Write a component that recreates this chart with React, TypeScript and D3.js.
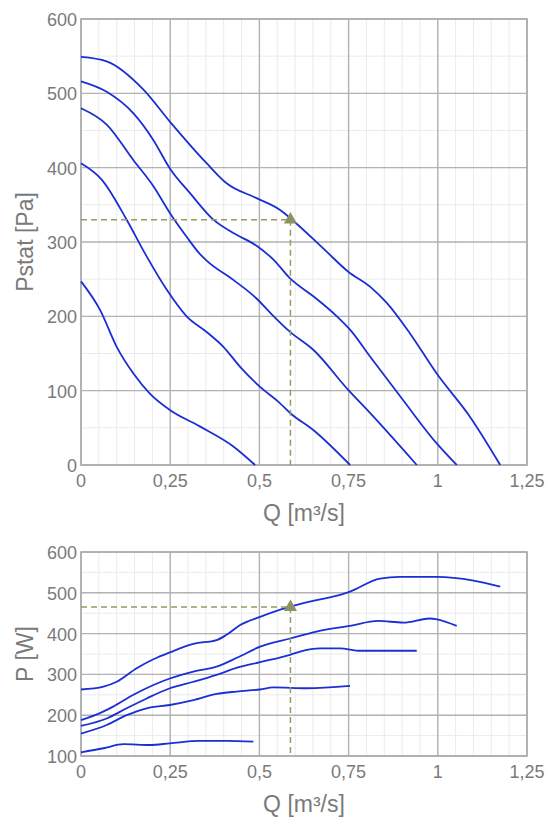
import * as d3 from 'd3';

// pressure curves, [Q m3/s, Pstat Pa]
const pstat1 = [[0, 549], [0.072, 543], [0.175, 505], [0.249, 462], [0.352, 406], [0.408, 379], [0.492, 359], [0.558, 343], [0.589, 331], [0.684, 289], [0.749, 260], [0.81, 240], [0.857, 218], [0.922, 177], [0.997, 123], [1.09, 65], [1.175, 0]];
const pstat2 = [[0, 516], [0.072, 502], [0.147, 473], [0.203, 437], [0.249, 399], [0.305, 366], [0.371, 330], [0.427, 312], [0.492, 295], [0.54, 276], [0.586, 251], [0.651, 227], [0.717, 200], [0.754, 182], [0.81, 146], [0.903, 87], [0.997, 29], [1.053, 0]];
const pstat3 = [[0, 480], [0.072, 458], [0.147, 410], [0.203, 375], [0.249, 339], [0.296, 307], [0.333, 284], [0.352, 275], [0.427, 249], [0.492, 224], [0.53, 205], [0.586, 179], [0.651, 155], [0.749, 101], [0.81, 70], [0.941, 0]];
const pstat4 = [[0, 406], [0.058, 384], [0.128, 330], [0.18, 284], [0.24, 236], [0.296, 200], [0.352, 179], [0.399, 159], [0.446, 132], [0.502, 105], [0.558, 83], [0.586, 70], [0.651, 47], [0.754, 0]];
const pstat5 = [[0, 247], [0.053, 209], [0.1, 159], [0.147, 123], [0.193, 96], [0.249, 74], [0.333, 52], [0.427, 25], [0.488, 0]];

// power curves, [Q m3/s, P W]
const power1 = [[0, 263], [0.063, 270], [0.1, 282], [0.156, 315], [0.203, 337], [0.249, 354], [0.315, 375], [0.38, 384], [0.408, 397], [0.446, 421], [0.502, 441], [0.586, 466], [0.66, 482], [0.726, 495], [0.754, 503], [0.838, 535], [0.894, 539], [0.997, 539], [1.1, 530], [1.175, 515]];
const power2 = [[0, 188], [0.053, 205], [0.09, 221], [0.147, 250], [0.203, 274], [0.249, 290], [0.315, 307], [0.38, 319], [0.44, 342], [0.502, 368], [0.586, 388], [0.66, 405], [0.754, 419], [0.833, 431], [0.903, 427], [0.978, 437], [0.997, 435], [1.053, 419]];
const power3 = [[0, 174], [0.072, 192], [0.128, 217], [0.184, 241], [0.249, 266], [0.315, 282], [0.38, 299], [0.44, 317], [0.502, 330], [0.586, 348], [0.614, 356], [0.67, 364], [0.726, 364], [0.782, 358], [0.941, 358]];
const power4 = [[0, 155], [0.072, 176], [0.128, 200], [0.184, 217], [0.249, 225], [0.315, 237], [0.38, 252], [0.436, 258], [0.502, 263], [0.539, 268], [0.633, 266], [0.754, 272]];
const power5 = [[0, 109], [0.063, 119], [0.119, 129], [0.193, 127], [0.249, 131], [0.333, 137], [0.408, 137], [0.483, 135]];

// operating point
const workQ = 0.587;
const workPstat = 330;
const workPower = 465;

const qTicks = [0, 0.25, 0.5, 0.75, 1, 1.25];
const pstatTicks = [0, 100, 200, 300, 400, 500, 600];
const powerTicks = [100, 200, 300, 400, 500, 600];

const FONT = '"Liberation Sans", Arial, sans-serif';
const TEXT = '#7a7a7a';
const BLUE = '#1a2fd4';
const OLIVE = '#979a63';

function Panel({ curves, yDomain, yTicks, top, bottom, title, workP }) {
  const x = d3.scaleLinear().domain([0, 1.25]).range([81, 527]);
  const y = d3.scaleLinear().domain(yDomain).range([bottom, top]);
  const line = d3
    .line()
    .x((d) => x(d[0]))
    .y((d) => y(d[1]))
    .curve(d3.curveMonotoneX);

  const minorX = d3.range(0, 1.2501, 0.05);
  const minorY = d3.range(yDomain[0], yDomain[1] + 1, 50);
  const tri = d3.symbol(d3.symbolTriangle, 75)();

  return (
    <g>
      {minorX.map((v, i) => (
        <line key={'mx' + i} x1={x(v)} x2={x(v)} y1={top} y2={bottom} stroke="#ebebeb" strokeWidth={1} />
      ))}
      {minorY.map((v, i) => (
        <line key={'my' + i} x1={81} x2={527} y1={y(v)} y2={y(v)} stroke="#ebebeb" strokeWidth={1} />
      ))}
      {qTicks.map((v) => (
        <line key={'gx' + v} x1={x(v)} x2={x(v)} y1={top} y2={bottom} stroke="#b3b3b3" strokeWidth={1.4} />
      ))}
      {yTicks.map((v) => (
        <line key={'gy' + v} x1={81} x2={527} y1={y(v)} y2={y(v)} stroke="#b3b3b3" strokeWidth={1.4} />
      ))}
      <rect x={81} y={top} width={446} height={bottom - top} fill="none" stroke="#adadad" strokeWidth={1.6} />

      {curves.map((c, i) => (
        <path key={'c' + i} d={line(c)} fill="none" stroke={BLUE} strokeWidth={1.8} />
      ))}

      <line x1={81} x2={x(workQ)} y1={y(workP)} y2={y(workP)} stroke={OLIVE} strokeWidth={1.5} strokeDasharray="6,4" />
      <line x1={x(workQ)} x2={x(workQ)} y1={y(workP)} y2={bottom} stroke={OLIVE} strokeWidth={1.5} strokeDasharray="6,4" />
      <path d={tri} transform={`translate(${x(workQ)},${y(workP)})`} fill="#8b9460" />

      {yTicks.map((v) => (
        <text key={'ty' + v} x={77} y={y(v) + 7} textAnchor="end" fontSize={18} fill={TEXT} fontFamily={FONT}>
          {v}
        </text>
      ))}
      {qTicks.map((v) => (
        <text key={'tx' + v} x={x(v)} y={bottom + 22} textAnchor="middle" fontSize={18} fill={TEXT} fontFamily={FONT}>
          {String(v).replace('.', ',')}
        </text>
      ))}
      <text x={304} y={bottom + 56} textAnchor="middle" fontSize={23} fill={TEXT} fontFamily={FONT}>
        Q [m³/s]
      </text>
      <text
        transform={`translate(33,${(top + bottom) / 2}) rotate(-90)`}
        textAnchor="middle"
        fontSize={23}
        fill={TEXT}
        fontFamily={FONT}
      >
        {title}
      </text>
    </g>
  );
}

export default function App() {
  return (
    <svg
      width={555}
      height={822}
      viewBox="0 0 555 822"
      style={{ position: 'absolute', left: 0, top: 0, background: '#fff' }}
    >
      <Panel
        curves={[pstat1, pstat2, pstat3, pstat4, pstat5]}
        yDomain={[0, 600]}
        yTicks={pstatTicks}
        top={19}
        bottom={465}
        title="Pstat [Pa]"
        workP={workPstat}
      />
      <Panel
        curves={[power1, power2, power3, power4, power5]}
        yDomain={[100, 600]}
        yTicks={powerTicks}
        top={552}
        bottom={756}
        title="P [W]"
        workP={workPower}
      />
    </svg>
  );
}
